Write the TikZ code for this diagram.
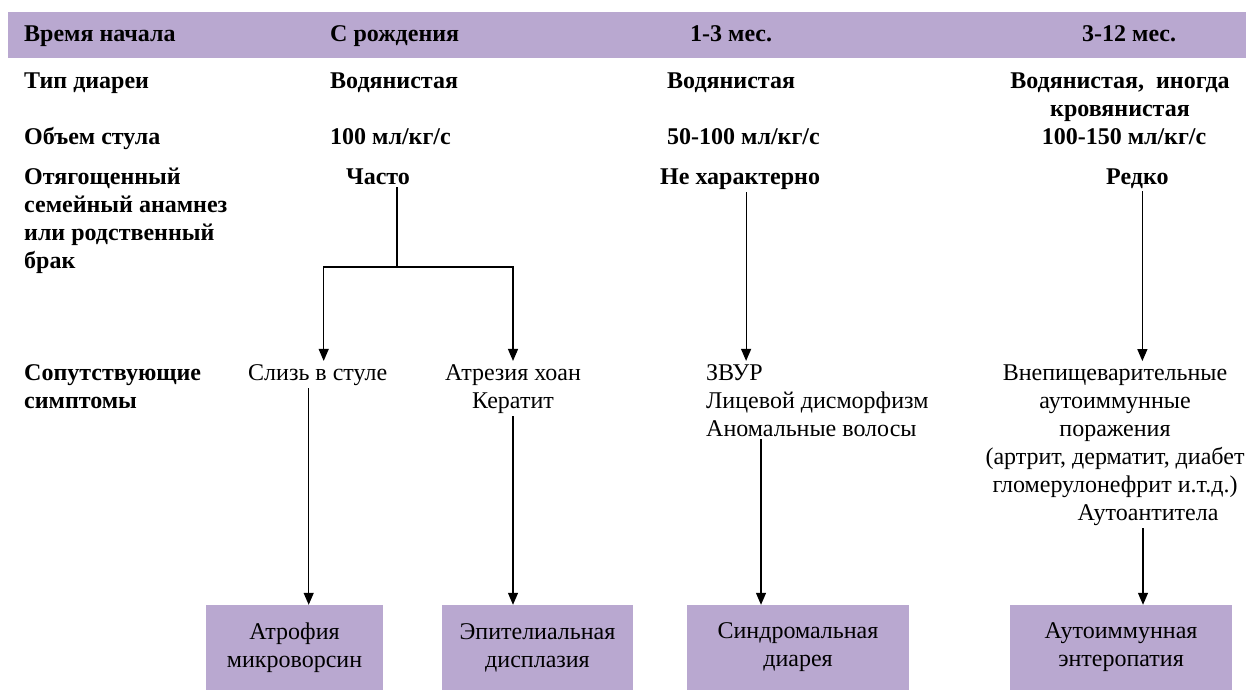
\documentclass[tikz,border=0pt]{standalone}
\usepackage{fontspec}
\setmainfont{Liberation Serif}
\usetikzlibrary{arrows.meta}
\definecolor{lilac}{RGB}{185,168,208}
\newcommand\bodysize{\fontsize{24}{28}\selectfont}
\tikzset{
  head/.style={font=\bodysize\bfseries, inner sep=3pt, anchor=base west},
  sym/.style={font=\bodysize, inner sep=3pt, anchor=base west},
  dx/.style={font=\bodysize, fill=lilac, align=center, minimum height=85pt, inner sep=0pt},
  link/.style={line width=1.2pt},
  arrow/.style={link, -{Triangle[width=10pt,length=12pt]}},
}
\begin{document}
\begin{tikzpicture}[x=1pt, y=-1pt]
\useasboundingbox (0,0) rectangle (1246,690);
% header band
\fill[lilac] (8,12) rectangle (1246,58);
\node[head] (hOnset) at (21,42) {Время начала};
\node[head] (hBirth) at (327,42) {С рождения};
\node[head] (hEarly) at (687,42) {1-3 мес.};
\node[head] (hLate) at (1079,42) {3-12 мес.};
% type and volume (multi-line nodes sit on their last line)
\node[head] (tType) at (21,89) {Тип диареи};
\node[head] (tBirth) at (327,89) {Водянистая};
\node[head] (tEarly) at (664,89) {Водянистая};
\node[head, anchor=base, align=center] (tLate) at (1120,117) {Водянистая,\ \ иногда\\кровянистая};
\node[head] (vVol) at (21,144) {Объем стула};
\node[head] (vBirth) at (327,144) {100 мл/кг/с};
\node[head] (vEarly) at (664,144) {50-100 мл/кг/с};
\node[head, anchor=base] (vLate) at (1124,144) {100-150 мл/кг/с};
% family history
\node[head, align=left] (fam) at (21,268) {Отягощенный\\семейный анамнез\\или родственный\\брак};
\node[head] (often) at (343,184) {Часто};
\node[head] (uncommon) at (657,184) {Не характерно};
\node[head] (rare) at (1103,184) {Редко};
% symptoms
\node[head, align=left] (symp) at (21,408) {Сопутствующие\\симптомы};
\node[sym] (mucus) at (245,380) {Слизь в стуле};
\node[sym, anchor=base, align=center] (choanal) at (513,408) {Атрезия хоан\\Кератит};
\node[sym, align=left] (synd) at (703,436) {ЗВУР\\Лицевой дисморфизм\\Аномальные волосы};
\node[sym, anchor=base, align=center] (autoimm) at (1115,520) {Внепищеварительные\\аутоиммунные\\поражения\\(артрит, дерматит, диабет\\гломерулонефрит и.т.д.)\\\hspace*{66pt}Аутоантитела};
% diagnoses
\node[dx, minimum width=177pt] (atrophy) at (294.5,647.5) {Атрофия\\микроворсин};
\node[dx, minimum width=191pt] (dysplasia) at (537.5,647.5) {Эпителиальная\\дисплазия};
\node[dx, minimum width=222pt] (syndromic) at (798,647.5) {Синдромальная\\диарея};
\node[dx, minimum width=222pt] (enteropathy) at (1121,647.5) {Аутоиммунная\\энтеропатия};
% connectors
\coordinate (fork) at (397,267);
\draw[link] (often.south -| fork) -- (fork);
\draw[arrow] (fork) -| ([xshift=6pt]mucus.north);
\draw[arrow] (fork) -| (choanal.north);
\draw[arrow] ([xshift=-9pt]mucus.south) -- ([xshift=-9pt]mucus.south |- atrophy.north);
\draw[arrow] (choanal.south) -- (choanal.south |- dysplasia.north);
\draw[arrow] ([xshift=6pt]uncommon.south) -- ([xshift=6pt]uncommon.south |- synd.north);
\draw[arrow] ([xshift=5pt]rare.south) -- ([xshift=5pt]rare.south |- autoimm.north);
\draw[arrow] ([xshift=58pt]synd.south west) -- ([xshift=58pt]synd.south west |- syndromic.north);
\draw[arrow] ([xshift=28pt]autoimm.south) -- ([xshift=28pt]autoimm.south |- enteropathy.north);
\end{tikzpicture}
\end{document}
